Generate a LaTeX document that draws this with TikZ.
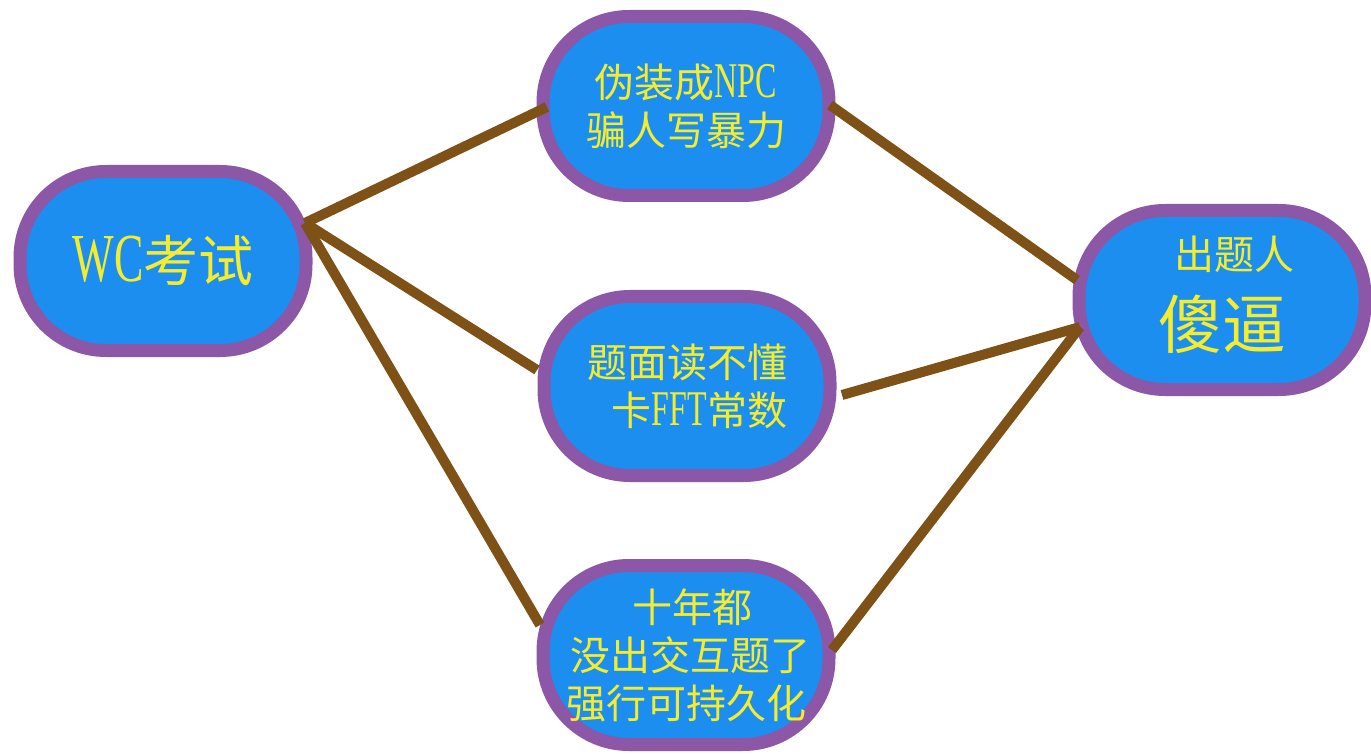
\documentclass[tikz,border=0pt]{standalone}
\usepackage{fontspec}
\newfontfamily\cjk{Noto Sans CJK SC}
\newfontfamily\lat[Scale=1.25,FakeStretch=0.64]{Liberation Serif}
\definecolor{bblue}{HTML}{1B8EEF}
\definecolor{bpurple}{HTML}{8B57A6}
\definecolor{bbrown}{HTML}{7E5116}
\definecolor{byellow}{HTML}{F4EC2C}
\begin{document}
\begin{tikzpicture}[x=0.5pt,y=-0.5pt,
  bubble/.style={draw=bpurple, fill=bblue, line width=6.5pt, rounded corners=43pt,
    minimum width=143pt, minimum height=89.5pt, inner sep=0pt, text=byellow,
    align=center, font=\cjk\fontsize{20pt}{24pt}\selectfont},
  bubbletext/.style={inner sep=0pt, text=byellow, align=center,
    font=\cjk\fontsize{20pt}{24pt}\selectfont},
  link/.style={draw=bbrown, line width=5pt}]
\useasboundingbox (0,0) rectangle (1371,754);
\node[bubble] (wc) at (163,261) {\fontsize{27.5pt}{30pt}\selectfont{\lat WC}考试};
\node[bubble] (top) at (686,106) {伪装成{\lat NPC}\\骗人写暴力};
\node[bubble, align=right] (mid) at (687,386) {题面读不懂\\卡{\lat FFT}常数};
\node[bubble] (bot) at (686,655) {\hspace*{6pt}十年都\\\hspace*{4pt}没出交互题了\\强行可持久化};
\node[bubble] (rt) at (1222,300) {};
\node[bubbletext] (rttext) at (1222,295) {\hspace*{12pt}出题人\\[10pt]{\fontsize{32pt}{36pt}\selectfont 傻逼}};
\coordinate (wcJ) at (305,223);
\coordinate (topL) at (547,107);
\coordinate (topR) at (830,105);
\coordinate (midL) at (537,370);
\coordinate (midR) at (842,395);
\coordinate (botL) at (540,625);
\coordinate (botR) at (832,650);
\coordinate (rtT) at (1077,280);
\coordinate (rtB) at (1080,327);
\draw[link] (wcJ) -- (topL);
\draw[link] (wcJ) -- (midL);
\draw[link] (wcJ) -- (botL);
\draw[link] (topR) -- (rtT);
\draw[link] (midR) -- (rtB);
\draw[link] (botR) -- (rtB);
\end{tikzpicture}
\end{document}
